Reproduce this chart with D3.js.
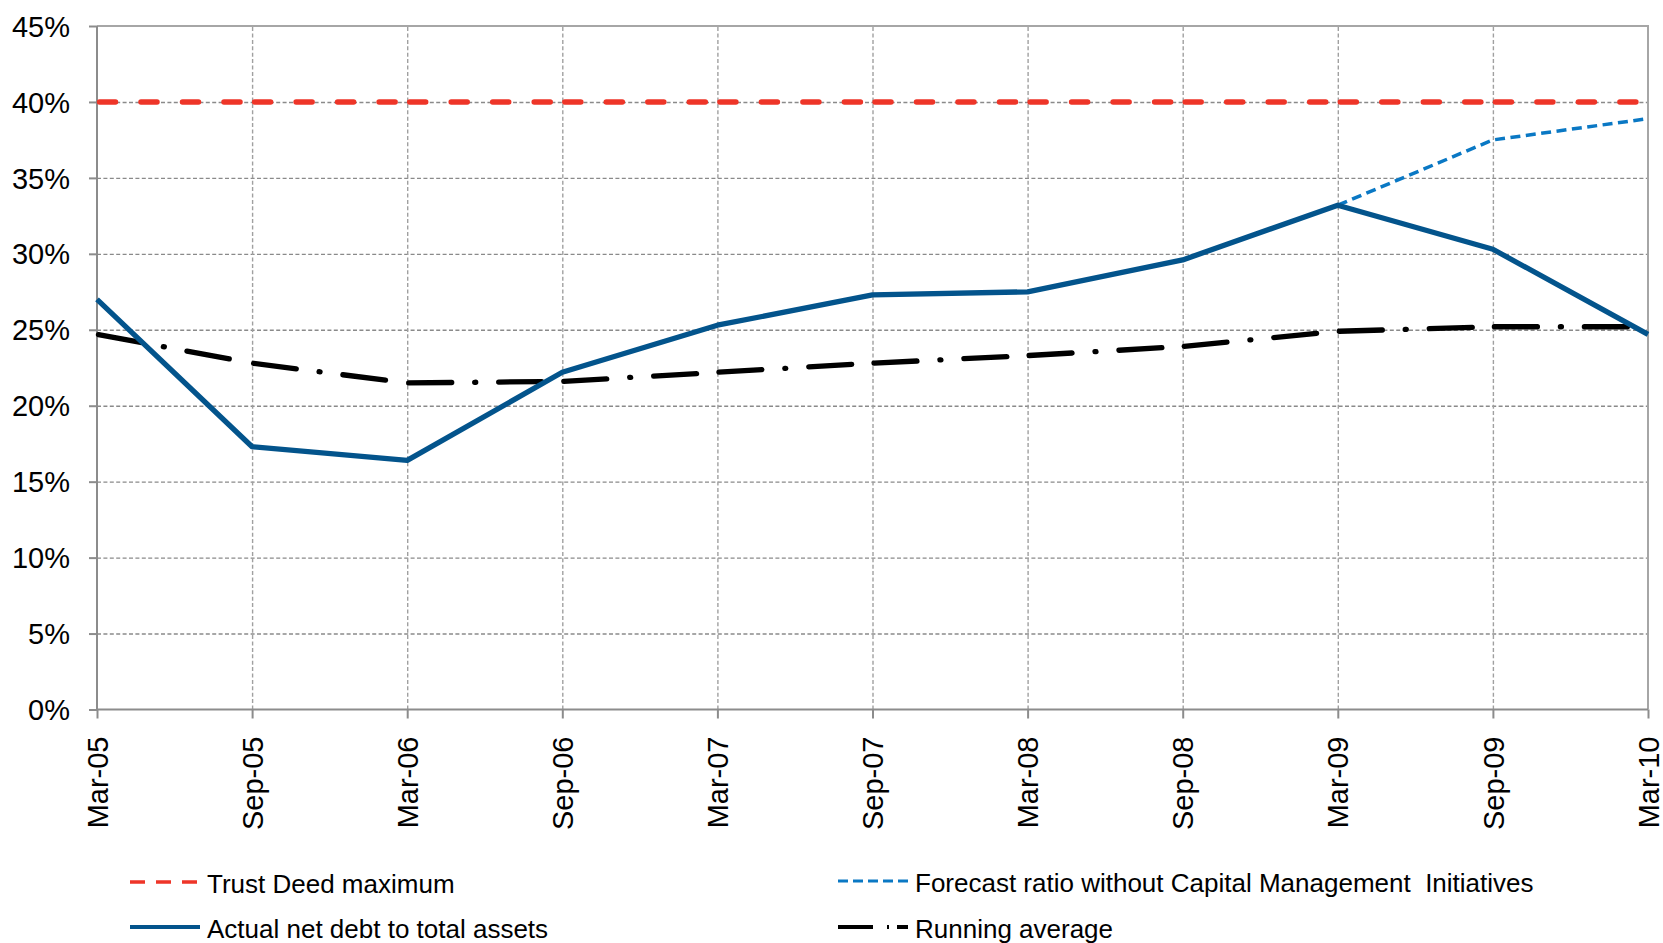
<!DOCTYPE html>
<html>
<head>
<meta charset="utf-8">
<script src="https://cdn.jsdelivr.net/npm/d3@7"></script>
<style>
  html, body { margin: 0; padding: 0; background: #fff; }
  svg { display: block; font-family: "Liberation Sans", Arial, sans-serif; }
</style>
</head>
<body>
<svg id="chart" width="1663" height="943"></svg>
<script>
// ---- data ----
const categories = ["Mar-05","Sep-05","Mar-06","Sep-06","Mar-07","Sep-07","Mar-08","Sep-08","Mar-09","Sep-09","Mar-10"];
const trustDeedMax = [40,40,40,40,40,40,40,40,40,40,40];
const actualNetDebt = [27.0,17.3,16.4,22.2,25.3,27.3,27.5,29.6,33.2,30.3,24.7];
const forecastRatio = [null,null,null,null,null,null,null,null,33.2,37.5,38.9];
const runningAverage = [24.7,22.8,21.5,21.6,22.2,22.8,23.3,23.9,24.9,25.2,25.2];
const yTicks = [0,5,10,15,20,25,30,35,40,45];
const seriesNames = ["Trust Deed maximum","Actual net debt to total assets","Forecast ratio without Capital Management  Initiatives","Running average"];

(function () {
// ---- layout ----
const svg = d3.select("#chart");
const pL = 97, pR = 1648, pT = 26, pB = 709.5;

const x = d3.scalePoint().domain(categories).range([pL, pR]);
const y = d3.scaleLinear().domain([0, 45]).range([pB, pT]);

// horizontal gridlines
const yGrid = svg.append("g").attr("transform", `translate(${pL},0)`)
  .call(d3.axisLeft(y).tickValues(yTicks.filter(v => v > 0 && v < 45)).tickSize(-(pR - pL)).tickFormat(""));
yGrid.select(".domain").remove();
yGrid.selectAll("line").attr("stroke", "#8a8a8a").attr("stroke-width", 1.4).attr("stroke-dasharray", "4,2.4");

// vertical gridlines
const xGrid = svg.append("g").attr("transform", `translate(0,${pB})`)
  .call(d3.axisBottom(x).tickValues(categories.slice(1, -1)).tickSize(-(pB - pT)).tickFormat(""));
xGrid.select(".domain").remove();
xGrid.selectAll("line").attr("stroke", "#a0a0a0").attr("stroke-width", 1.4).attr("stroke-dasharray", "4,2.4");

// plot border (top & right)
svg.append("path")
  .attr("d", `M${pL},${pT}H${pR}V${pB}`)
  .attr("fill", "none").attr("stroke", "#a6a6a6").attr("stroke-width", 2);

// y axis
const yAxis = svg.append("g").attr("transform", `translate(${pL},0)`)
  .call(d3.axisLeft(y).tickValues(yTicks).tickSize(8).tickPadding(6).tickFormat(d => d + "%"));
yAxis.select(".domain").attr("stroke", "#8c8c8c").attr("stroke-width", 2).attr("d", `M0,${pT}V${pB}`);
yAxis.selectAll("line").attr("stroke", "#8c8c8c").attr("stroke-width", 2);
yAxis.selectAll("text").attr("font-size", 29).attr("fill", "#000")
  .attr("font-family", "Liberation Sans, Arial, sans-serif").attr("x", -27).attr("dy", "0.35em");

// x axis
const xAxis = svg.append("g").attr("transform", `translate(0,${pB})`)
  .call(d3.axisBottom(x).tickSize(9).tickFormat(d => d));
xAxis.select(".domain").attr("stroke", "#8c8c8c").attr("stroke-width", 2).attr("d", `M${pL},0H${pR}`);
xAxis.selectAll("line").attr("stroke", "#8c8c8c").attr("stroke-width", 2);
xAxis.selectAll("text")
  .attr("font-size", 29).attr("fill", "#000").attr("font-family", "Liberation Sans, Arial, sans-serif")
  .attr("transform", "rotate(-90)")
  .attr("text-anchor", "end")
  .attr("x", -27).attr("y", 0).attr("dy", "0.35em");

// ---- series ----
const line = d3.line().defined(d => d.v !== null).x(d => x(d.c)).y(d => y(d.v));
const pts = arr => arr.map((v, i) => ({ c: categories[i], v }));

// segment-wise drawing (dash pattern restarts at each data point)
function drawSegments(arr, attrs) {
  const p = pts(arr);
  for (let i = 0; i < p.length - 1; i++) {
    if (p[i].v === null || p[i + 1].v === null) continue;
    const path = svg.append("path").attr("d", line([p[i], p[i + 1]])).attr("fill", "none");
    Object.entries(attrs).forEach(([k, v]) => path.attr(k, v));
  }
}

// Trust Deed maximum
drawSegments(trustDeedMax, {
  stroke: "#EE3528", "stroke-width": 5.5, "stroke-dasharray": "16,25.5",
  "stroke-linecap": "round", "stroke-dashoffset": -2.5
});

// Running average
drawSegments(runningAverage, {
  stroke: "#000", "stroke-width": 5.3, "stroke-dasharray": "43,23,1,23,43,40",
  "stroke-linecap": "round", "stroke-dashoffset": -1.5
});

// Forecast ratio
svg.append("path").attr("d", line(pts(forecastRatio)))
  .attr("fill", "none").attr("stroke", "#0A78C4").attr("stroke-width", 3.5)
  .attr("stroke-dasharray", "10,5.5");

// Actual net debt
svg.append("path").attr("d", line(pts(actualNetDebt)))
  .attr("fill", "none").attr("stroke", "#03548C").attr("stroke-width", 5.3)
  .attr("stroke-linejoin", "round");

// ---- legend ----
const legendItems = [
  { name: seriesNames[0], x: 130, y: 893, stroke: "#EE3528", w: 3.5, dash: "15,11" },
  { name: seriesNames[1], x: 130, y: 938, stroke: "#03548C", w: 4, dash: null },
  { name: seriesNames[2], x: 838, y: 892, stroke: "#0A78C4", w: 3, dash: "10,5" },
  { name: seriesNames[3], x: 838, y: 938, stroke: "#000", w: 4, dash: "35,14,2,8,12,10" }
];
const lg = svg.append("g");
legendItems.forEach(it => {
  const l = lg.append("line")
    .attr("x1", it.x).attr("x2", it.x + 70).attr("y1", it.y - 11).attr("y2", it.y - 11)
    .attr("stroke", it.stroke).attr("stroke-width", it.w);
  if (it.dash) l.attr("stroke-dasharray", it.dash);
  lg.append("text").attr("x", it.x + 77).attr("y", it.y)
    .attr("font-size", 26).attr("fill", "#000")
    .style("white-space", "pre")
    .text(it.name);
});
})();
</script>
</body>
</html>
